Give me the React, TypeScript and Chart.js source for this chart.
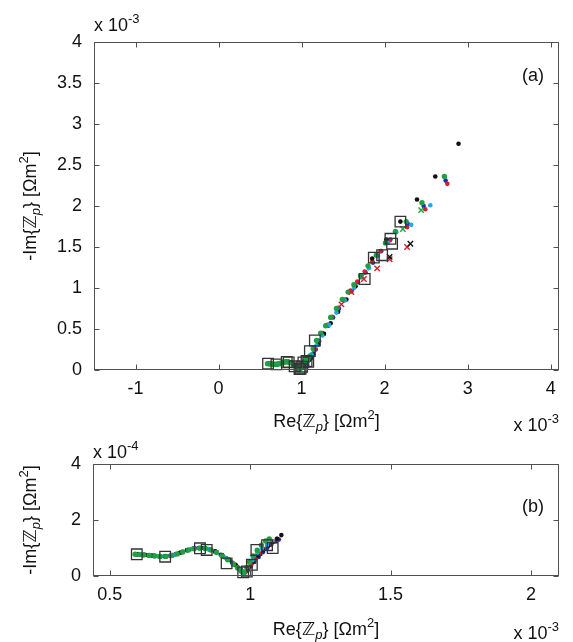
import { useEffect, useRef } from "react";
import { Chart, registerables } from "chart.js";
Chart.register(...registerables);

// All values in units of 1e-3 Ohm m^2: [Re{Z}, -Im{Z}]
// Low-frequency arc part (also shown in panel b)
const greenArc = [
  [0.590, 0.0775], [0.605, 0.0765], [0.620, 0.0750], [0.640, 0.0735], [0.660, 0.0715],
  [0.680, 0.0700], [0.700, 0.0700], [0.720, 0.0730], [0.740, 0.0790], [0.760, 0.0860],
  [0.780, 0.0930], [0.800, 0.0975], [0.820, 0.0995], [0.840, 0.0980], [0.860, 0.0930],
  [0.880, 0.0840], [0.900, 0.0720], [0.920, 0.0580], [0.940, 0.0420], [0.955, 0.0290],
  [0.968, 0.0170], [0.978, 0.0120], [0.988, 0.0300], [0.998, 0.0500], [1.010, 0.0720],
  [1.025, 0.0920], [1.040, 0.1100], [1.055, 0.1250], [1.068, 0.1320],
];
const greenLine = [
  [1.10, 0.17], [1.14, 0.26], [1.18, 0.36], [1.23, 0.45], [1.29, 0.54], [1.35, 0.64],
  [1.42, 0.75], [1.49, 0.86], [1.56, 0.95], [1.63, 1.04], [1.71, 1.15], [1.80, 1.27],
  [1.90, 1.40], [2.01, 1.55], [2.13, 1.69], [2.26, 1.81], [2.45, 2.04], [2.72, 2.36],
];
const blueArc = [
  [0.595, 0.0770], [0.615, 0.0755], [0.635, 0.0740], [0.655, 0.0720], [0.675, 0.0705],
  [0.695, 0.0700], [0.715, 0.0725], [0.735, 0.0780], [0.755, 0.0850], [0.775, 0.0925],
  [0.795, 0.0975], [0.815, 0.1000], [0.835, 0.0990], [0.855, 0.0950], [0.875, 0.0870],
  [0.895, 0.0760], [0.915, 0.0630], [0.935, 0.0480], [0.952, 0.0340], [0.966, 0.0200],
  [0.978, 0.0090], [0.990, 0.0180], [1.002, 0.0340], [1.015, 0.0500], [1.030, 0.0680],
  [1.045, 0.0850], [1.060, 0.1000], [1.075, 0.1120], [1.090, 0.1230], [1.102, 0.1300],
];
const blueLine = [
  [1.13, 0.17], [1.17, 0.25], [1.21, 0.35], [1.26, 0.44], [1.32, 0.54], [1.38, 0.64],
  [1.45, 0.75], [1.52, 0.85], [1.60, 0.96], [1.68, 1.07], [1.77, 1.19], [1.86, 1.31],
  [1.96, 1.45], [2.07, 1.59], [2.28, 1.78], [2.47, 2.00], [2.735, 2.31],
];
const redArc = [
  [0.600, 0.0772], [0.620, 0.0758], [0.640, 0.0740], [0.660, 0.0722], [0.680, 0.0706],
  [0.700, 0.0702], [0.720, 0.0728], [0.740, 0.0785], [0.760, 0.0855], [0.780, 0.0928],
  [0.800, 0.0978], [0.820, 0.0998], [0.840, 0.0985], [0.860, 0.0940], [0.880, 0.0855],
  [0.900, 0.0740], [0.920, 0.0600], [0.940, 0.0445], [0.956, 0.0310], [0.970, 0.0180],
  [0.982, 0.0130], [0.994, 0.0280], [1.006, 0.0440], [1.020, 0.0620], [1.035, 0.0800],
  [1.050, 0.0960], [1.065, 0.1100], [1.080, 0.1230], [1.095, 0.1330],
];
const redLine = [
  [1.12, 0.18], [1.16, 0.26], [1.20, 0.36], [1.25, 0.45], [1.31, 0.55], [1.37, 0.65],
  [1.44, 0.76], [1.51, 0.86], [1.59, 0.97], [1.67, 1.08], [1.76, 1.20], [1.85, 1.32],
  [1.95, 1.45], [2.06, 1.58], [2.27, 1.74], [2.49, 1.96], [2.755, 2.27],
];
const blackArc = [
  [0.600, 0.0780], [0.625, 0.0760], [0.650, 0.0730], [0.675, 0.0705], [0.700, 0.0705],
  [0.725, 0.0745], [0.750, 0.0830], [0.775, 0.0920], [0.800, 0.0980], [0.825, 0.1000],
  [0.850, 0.0965], [0.875, 0.0880], [0.900, 0.0750], [0.925, 0.0580], [0.948, 0.0400],
  [0.966, 0.0230], [0.980, 0.0150], [0.995, 0.0330], [1.010, 0.0520], [1.028, 0.0730],
  [1.046, 0.0920], [1.064, 0.1080], [1.080, 0.1210], [1.096, 0.1330], [1.111, 0.1460],
];
const blackLine = [
  [1.14, 0.20], [1.20, 0.31], [1.27, 0.44], [1.35, 0.57], [1.44, 0.71], [1.54, 0.86],
  [1.65, 1.02], [1.85, 1.36], [2.02, 1.59], [2.19, 1.81], [2.39, 2.08], [2.61, 2.36],
  [2.89, 2.76],
];
const cyanArc = [
  [0.610, 0.0765], [0.640, 0.0740], [0.670, 0.0710], [0.700, 0.0703], [0.730, 0.0760],
  [0.760, 0.0860], [0.790, 0.0960], [0.820, 0.0995], [0.850, 0.0960], [0.880, 0.0850],
  [0.910, 0.0660], [0.940, 0.0440], [0.962, 0.0250], [0.978, 0.0140], [0.992, 0.0320],
  [1.008, 0.0560], [1.025, 0.0800], [1.042, 0.0980], [1.060, 0.1120], [1.080, 0.1250],
];
const cyanLine = [
  [1.12, 0.19], [1.18, 0.30], [1.25, 0.42], [1.33, 0.55], [1.42, 0.70], [1.52, 0.85],
  [1.63, 1.00], [1.72, 1.13], [1.81, 1.24], [1.92, 1.39], [2.04, 1.55], [2.14, 1.68],
  [2.32, 1.77], [2.55, 2.01],
];
const squaresArc = [
  [0.596, 0.0775], [0.697, 0.0690], [0.821, 0.0990], [0.845, 0.0930], [0.916, 0.0450],
  [0.975, 0.0130], [0.988, 0.0160], [1.006, 0.0400], [1.022, 0.0930], [1.060, 0.1100],
  [1.080, 0.1000],
];
const squaresLine = [
  [1.10, 0.23], [1.16, 0.36], [1.76, 1.11], [1.87, 1.37], [1.97, 1.40], [2.07, 1.60],
  [2.09, 1.54], [2.19, 1.81],
];
const redCross = [[1.48, 0.80], [1.60, 0.95], [1.75, 1.11], [1.91, 1.24], [2.06, 1.35], [2.27, 1.50]];
const blackCross = [[2.06, 1.38], [2.31, 1.54]];
const greenCross = [[1.73, 1.14], [2.22, 1.72], [2.44, 1.95]];

// Tick values
const topXTicks = [-1, 0, 1, 2, 3, 4];
const topYTicks = [0, 0.5, 1, 1.5, 2, 2.5, 3, 3.5, 4];
const botXTicks = [0.5, 1, 1.5, 2];
const botYTicks = [0, 2, 4];

const FAM = '"Liberation Sans", Arial, Helvetica, "DejaVu Sans", sans-serif';
const FS = 18;
const GREEN = "#21a043";
const BLUE = "#1f2d9e";
const RED = "#d3202c";
const CYAN = "#1fa8ec";
const BLACK = "#111111";

type Seg = { t: string; sup?: boolean; sub?: boolean; italic?: boolean };

function drawRich(ctx: CanvasRenderingContext2D, segs: Seg[], x: number, y: number, size: number, align: string) {
  const small = Math.round(size * 0.72);
  const fontFor = (s: Seg) => `${s.italic ? "italic " : ""}${s.sup || s.sub ? small : size}px ${FAM}`;
  const widths = segs.map((s) => {
    ctx.font = fontFor(s);
    return ctx.measureText(s.t).width;
  });
  const total = widths.reduce((a, b) => a + b, 0);
  let cx = align === "center" ? x - total / 2 : align === "right" ? x - total : x;
  ctx.textAlign = "left";
  ctx.textBaseline = "alphabetic";
  segs.forEach((s, i) => {
    ctx.font = fontFor(s);
    const dy = s.sup ? -size * 0.45 : s.sub ? size * 0.22 : 0;
    ctx.fillText(s.t, cx, y + dy);
    cx += widths[i];
  });
}

const labelRe: Seg[] = [{ t: "Re{ℤ" }, { t: "p", sub: true, italic: true }, { t: "} [Ωm" }, { t: "2", sup: true }, { t: "]" }];
const labelIm: Seg[] = [{ t: "-Im{ℤ" }, { t: "p", sub: true, italic: true }, { t: "} [Ωm" }, { t: "2", sup: true }, { t: "]" }];
const expSeg = (e: string): Seg[] => [{ t: "x 10" }, { t: e, sup: true }];

type TextCfg = {
  yExp: string; yExpY: number;
  xExp: string; xExpY: number;
  xLabelY: number; yLabelX: number;
  panel: string; panelY: number;
};

function makeFramePlugin(cfg: TextCfg) {
  return {
    id: "frame",
    afterDraw(chart: any) {
      const { ctx, chartArea: a, scales } = chart;
      ctx.save();
      ctx.strokeStyle = "#505050";
      ctx.lineWidth = 1;
      const L = Math.round(a.left) + 0.5, R = Math.round(a.right) - 0.5;
      const T = Math.round(a.top) + 0.5, B = Math.round(a.bottom) - 0.5;
      ctx.strokeRect(L, T, R - L, B - T);
      const tl = 5;
      ctx.beginPath();
      for (const t of scales.x.ticks) {
        const px = Math.round(scales.x.getPixelForValue(t.value)) + 0.5;
        ctx.moveTo(px, B); ctx.lineTo(px, B - tl);
        ctx.moveTo(px, T); ctx.lineTo(px, T + tl);
      }
      for (const t of scales.y.ticks) {
        const py = Math.round(scales.y.getPixelForValue(t.value)) + 0.5;
        ctx.moveTo(L, py); ctx.lineTo(L + tl, py);
        ctx.moveTo(R, py); ctx.lineTo(R - tl, py);
      }
      ctx.stroke();
      ctx.fillStyle = "#111111";
      const cxMid = (a.left + a.right) / 2;
      const cyMid = (a.top + a.bottom) / 2;
      drawRich(ctx, expSeg(cfg.yExp), a.left, cfg.yExpY, FS, "left");
      drawRich(ctx, expSeg(cfg.xExp), a.right, cfg.xExpY, FS, "right");
      drawRich(ctx, labelRe, cxMid, cfg.xLabelY, FS, "center");
      drawRich(ctx, [{ t: cfg.panel }], a.right - 15, cfg.panelY, FS, "right");
      ctx.save();
      ctx.translate(cfg.yLabelX, cyMid);
      ctx.rotate(-Math.PI / 2);
      drawRich(ctx, labelIm, 0, 0, FS, "center");
      ctx.restore();
      ctx.restore();
    },
  };
}

const pts = (arr: number[][], ys: number) => arr.map(([x, y]) => ({ x, y: y * ys }));

function buildDatasets(parts: "all" | "arc", ys: number) {
  const all = parts === "all";
  const join = (a: number[][], b: number[][]) => (all ? a.concat(b) : a);
  const dot = (label: string, data: any[], color: string, r = 2.3) => ({
    label, data, backgroundColor: color, borderColor: color, pointRadius: r, pointBorderWidth: 0,
    pointStyle: "circle", showLine: false, clip: false,
  });
  const cross = (label: string, data: any[], color: string) => ({
    label, data, backgroundColor: color, borderColor: color, pointRadius: 3.8, pointBorderWidth: 1.4,
    pointStyle: "crossRot", showLine: false, clip: false,
  });
  const sets: any[] = [
    {
      label: "squares", data: pts(join(squaresArc, squaresLine), ys), backgroundColor: "rgba(0,0,0,0)",
      borderColor: "#333333", pointRadius: 7.5, pointBorderWidth: 1.3, pointStyle: "rect", showLine: false, clip: false,
    },
  ];
  if (all) {
    sets.push(cross("blackCross", pts(blackCross, ys), BLACK));
    sets.push(cross("redCross", pts(redCross, ys), RED));
    sets.push(cross("greenCross", pts(greenCross, ys), GREEN));
  }
  sets.push(dot("green", pts(join(greenArc, greenLine), ys), GREEN, 2.7));
  sets.push(dot("cyan", pts(join(cyanArc, cyanLine), ys), CYAN));
  sets.push(dot("black", pts(join(blackArc, blackLine), ys), BLACK));
  sets.push(dot("red", pts(join(redArc, redLine), ys), RED));
  sets.push(dot("blue", pts(join(blueArc, blueLine), ys), BLUE));
  return sets;
}

function axis(min: number, max: number, ticks: number[], fit: (s: any) => void, pad: number) {
  return {
    type: "linear" as const,
    min, max,
    afterBuildTicks: (s: any) => { s.ticks = ticks.map((v) => ({ value: v })); },
    afterFit: fit,
    ticks: {
      font: { family: FAM, size: FS }, color: "#111111", padding: pad,
      autoSkip: false, maxRotation: 0, callback: (v: any) => String(v),
    },
    grid: { display: false, drawTicks: false },
    border: { display: false },
  };
}

const TOP_H = 436;
const BOT_H = 642 - TOP_H;

export default function App() {
  const topRef = useRef<HTMLCanvasElement>(null);
  const botRef = useRef<HTMLCanvasElement>(null);

  useEffect(() => {
    const top = new Chart(topRef.current!, {
      type: "scatter",
      data: { datasets: buildDatasets("all", 1) },
      options: {
        responsive: false, animation: false, devicePixelRatio: 1,
        layout: { padding: { left: 0, right: 14, top: 42, bottom: TOP_H - 370 - 40 } },
        plugins: { legend: { display: false }, tooltip: { enabled: false } },
        scales: {
          x: axis(-1.5, 4.1, topXTicks, (s: any) => { s.height = 40; }, 8),
          y: axis(0, 4, topYTicks, (s: any) => { s.width = 94; }, 12),
        },
      },
      plugins: [makeFramePlugin({
        yExp: "-3", yExpY: 31, xExp: "-3", xExpY: 431, xLabelY: 427, yLabelX: 36, panel: "(a)", panelY: 81,
      })],
    } as any);
    const bot = new Chart(botRef.current!, {
      type: "scatter",
      data: { datasets: buildDatasets("arc", 10) },
      options: {
        responsive: false, animation: false, devicePixelRatio: 1,
        layout: { padding: { left: 0, right: 14, top: 464 - TOP_H, bottom: BOT_H - (576 - TOP_H) - 40 } },
        plugins: { legend: { display: false }, tooltip: { enabled: false } },
        scales: {
          x: axis(0.44, 2.1, botXTicks, (s: any) => { s.height = 40; }, 8),
          y: axis(0, 4, botYTicks, (s: any) => { s.width = 93; }, 12),
        },
      },
      plugins: [makeFramePlugin({
        yExp: "-4", yExpY: 458 - TOP_H, xExp: "-3", xExpY: 639 - TOP_H, xLabelY: 635 - TOP_H, yLabelX: 36, panel: "(b)", panelY: 512 - TOP_H,
      })],
    } as any);
    return () => { top.destroy(); bot.destroy(); };
  }, []);

  return (
    <div style={{ position: "absolute", left: 0, top: 0, width: 573, height: 642, background: "#fff" }}>
      <canvas ref={topRef} width={573} height={TOP_H} style={{ position: "absolute", left: 0, top: 0, width: 573, height: TOP_H }} />
      <canvas ref={botRef} width={573} height={BOT_H} style={{ position: "absolute", left: 0, top: TOP_H, width: 573, height: BOT_H }} />
    </div>
  );
}
